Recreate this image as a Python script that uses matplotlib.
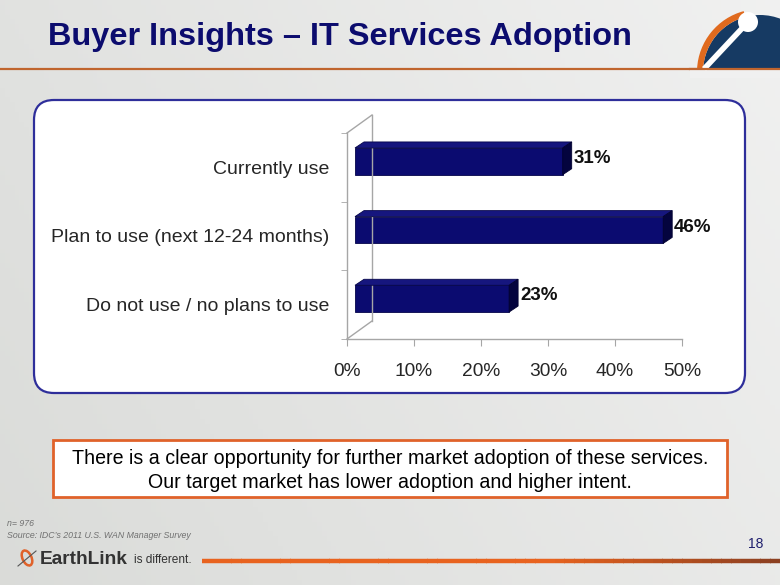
import numpy as np
import matplotlib
matplotlib.use("Agg")
import matplotlib.pyplot as plt
from matplotlib.patches import FancyBboxPatch, Polygon, Circle, Wedge, Ellipse, Rectangle
from matplotlib.transforms import ScaledTranslation

categories = ["Currently use", "Plan to use (next 12-24 months)", "Do not use / no plans to use"]
values = [0.31, 0.46, 0.23]
value_labels = ["31%", "46%", "23%"]
xticks = [0.0, 0.1, 0.2, 0.3, 0.4, 0.5]
xtick_labels = ["0%", "10%", "20%", "30%", "40%", "50%"]
title = "Buyer Insights \u2013 IT Services Adoption"
box_text = ("There is a clear opportunity for further market adoption of these services.\n"
            "Our target market has lower adoption and higher intent.")
note_n = "n= 976"
note_src = "Source: IDC\u2019s 2011 U.S. WAN Manager Survey"
page_no = "18"

W, H = 780, 585
DPI = 100
fig = plt.figure(figsize=(W / DPI, H / DPI), dpi=DPI)
plt.rcParams['font.family'] = ['Liberation Sans', 'DejaVu Sans']

# ---------- background axes in pixel coords ----------
bg = fig.add_axes([0, 0, 1, 1])
bg.set_xlim(0, W)
bg.set_ylim(H, 0)
bg.axis('off')
yy, xx = np.mgrid[0:1:120j, 0:1:160j]
g = np.clip(0.55 * xx + 0.25 * (1 - yy), 0, 1)
c0 = np.array([0.855, 0.86, 0.85])
c1 = np.array([0.965, 0.965, 0.965])
img = c0[None, None, :] * (1 - g[..., None]) + c1[None, None, :] * g[..., None]
bg.imshow(img, extent=[0, W, H, 0], aspect='auto', zorder=0)

# title line
bg.plot([0, 706], [69, 69], color='#C0652E', lw=1.6, zorder=2)

# logo (top right) - y axis inverted, so upward arcs use angles 180..360
bg.add_patch(Wedge((760, 72), 57, 180, 360, facecolor='#163A63', edgecolor='none', zorder=2))
bg.add_patch(Wedge((760, 72), 63, 183, 255, width=6, facecolor='#E06A1E', edgecolor='none', zorder=2))
bg.add_patch(Wedge((760, 72), 63, 300, 335, width=4, facecolor='#E8A040', edgecolor='none', zorder=2))
bg.add_patch(Rectangle((690, 70), 90, 8, facecolor='#F0F0F0', edgecolor='none', zorder=2))
bg.plot([704, 748], [69, 22], color='white', lw=4, solid_capstyle='butt', zorder=3)
bg.add_patch(Circle((748, 22), 10, facecolor='white', edgecolor='none', zorder=3))
bg.plot([690, 780], [69, 69], color='#C0652E', lw=1.6, zorder=3)

# title text
bg.text(48, 37, title, fontsize=23.4, fontweight='bold', color='#0C0C6E',
        va='center', ha='left', zorder=4)

# white rounded panel
bg.add_patch(FancyBboxPatch((34, 100), 711, 293, boxstyle="round,pad=0,rounding_size=20",
                            facecolor='white', edgecolor='#2E2E9A', lw=1.6, zorder=2))

# message box
bg.add_patch(Rectangle((53, 440), 674, 57, facecolor='white', edgecolor='#E0622A', lw=2, zorder=2))
bg.text(390, 470.5, box_text, ha='center', va='center', fontsize=14.1, color='black',
        linespacing=1.3, zorder=3)

# footnotes
bg.text(7, 524, note_n, fontsize=6.3, style='italic', color='#707070', va='center', zorder=3)
bg.text(7, 536, note_src, fontsize=6.3, style='italic', color='#707070', va='center', zorder=3)
bg.text(756, 544, page_no, fontsize=10, color='#1F1F6E', ha='center', va='center', zorder=3)

# footer orange line (gradient)
xs = np.linspace(202, 780, 60)
cA = np.array([0.91, 0.39, 0.12])
cB = np.array([0.55, 0.25, 0.13])
for i in range(len(xs) - 1):
    t = i / (len(xs) - 2)
    t2 = max(0, (t - 0.6) / 0.4)
    bg.plot([xs[i], xs[i + 1] + 0.5], [561, 561], color=cA * (1 - t2) + cB * t2, lw=3.2,
            solid_capstyle='butt', zorder=2)

# EarthLink logo
bg.add_patch(Ellipse((27, 558), 9, 16, angle=-25, facecolor='none', edgecolor='#E0622A', lw=1.8, zorder=3))
bg.plot([18, 36], [566, 551], color='#555555', lw=0.8, zorder=3)
bg.text(40, 559, "EarthLink", fontsize=13.8, fontweight='bold', color='#333333', va='center', zorder=3)
bg.text(134, 560, "is different.", fontsize=8.6, color='#333333', va='center', zorder=3)

# ---------- chart axes ----------
x0p, x1p, ytp, ybp = 347, 682, 133, 339
ax = fig.add_axes([x0p / W, 1 - ybp / H, (x1p - x0p) / W, (ybp - ytp) / H])
ax.set_facecolor('none')
ax.set_xlim(0, 0.5)
ax.set_ylim(len(categories) - 0.5, -0.5)
for s in ['top', 'right']:
    ax.spines[s].set_visible(False)
for s in ['left', 'bottom']:
    ax.spines[s].set_color('#A6A6A6')
    ax.spines[s].set_linewidth(1.0)
ax.set_xticks(xticks)
ax.set_xticklabels(xtick_labels, fontsize=13.8, color='#262626')
ax.set_yticks(np.arange(len(categories) + 1) - 0.5, minor=True)
ax.set_yticks(np.arange(len(categories)))
ax.set_yticklabels(categories, fontsize=14, color='#262626')
ax.tick_params(axis='y', which='major', length=0, pad=12.5)
ax.tick_params(axis='y', which='minor', length=4, color='#A6A6A6')
ax.tick_params(axis='x', length=5, color='#A6A6A6', pad=12)

# 3D wall (back)
dx, dy = 25, 18
fig.canvas.draw()
T = ax.transData
def px(x, y):
    return T.transform((x, y))
fl = px(0, -0.5); fb = px(0, len(categories) - 0.5)
for a, b in [((fl[0], fl[1]), (fl[0] + dx, fl[1] + dy)),
             ((fb[0], fb[1]), (fb[0] + dx, fb[1] + dy)),
             ((fl[0] + dx, fl[1] + dy), (fb[0] + dx, fb[1] + dy))]:
    fig.add_artist(plt.Line2D([a[0], b[0]], [a[1], b[1]], transform=None, color='#A6A6A6', lw=1.0, zorder=1))

# bars
bar_h = 0.39
off = ScaledTranslation(8 / DPI, 6 / DPI, fig.dpi_scale_trans)
ypos = np.arange(len(categories))
bars = ax.barh(ypos, values, height=bar_h, color='#0B0B70', edgecolor='#05054A', lw=0.6,
               transform=ax.transData + off, zorder=3)
ddx, ddy = 9, 6
for yi, v in zip(ypos, values):
    ftl = px(0, yi - bar_h / 2) + np.array([8, 6])
    ftr = px(v, yi - bar_h / 2) + np.array([8, 6])
    fbr = px(v, yi + bar_h / 2) + np.array([8, 6])
    top = [ftl, ftr, ftr + [ddx, ddy], ftl + [ddx, ddy]]
    side = [ftr, fbr, fbr + [ddx, ddy], ftr + [ddx, ddy]]
    fig.add_artist(Polygon(top, closed=True, transform=None, facecolor='#16167E',
                           edgecolor='#05054A', lw=0.6, zorder=3))
    fig.add_artist(Polygon(side, closed=True, transform=None, facecolor='#04043E',
                           edgecolor='#020230', lw=0.6, zorder=3))

for yi, v, lab in zip(ypos, values, value_labels):
    ax.annotate(lab, (v, yi), xytext=(19 * 0.72, 9 * 0.72), textcoords='offset points',
                ha='left', va='center', fontsize=13.5, fontweight='bold', color='#111111',
                annotation_clip=False, zorder=5)

fig.savefig("out.png", dpi=DPI)
